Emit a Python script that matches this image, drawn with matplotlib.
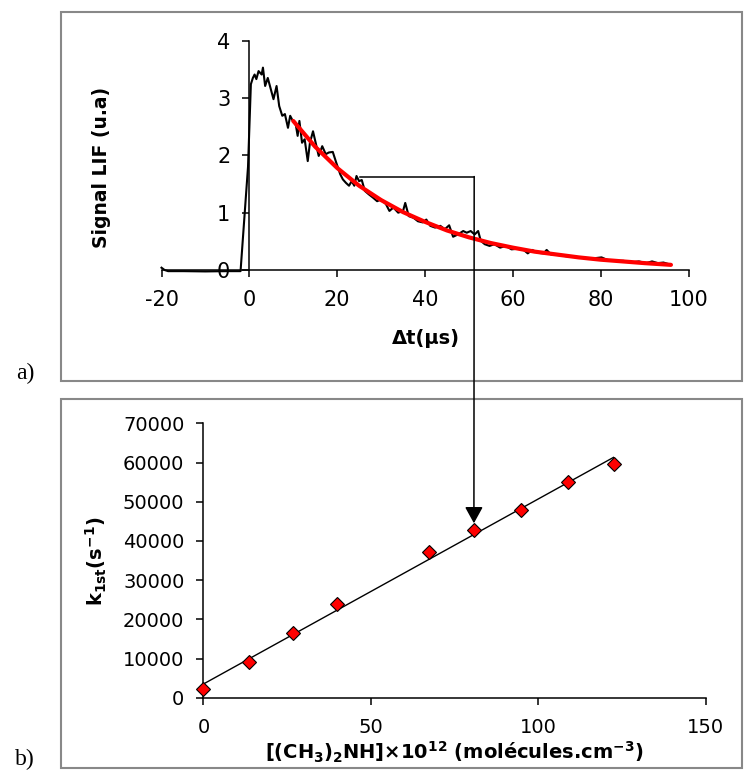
import matplotlib
matplotlib.use("Agg")
import matplotlib.pyplot as plt
from matplotlib.patches import Rectangle, ConnectionPatch

W, H = 744, 776

# a) LIF signal trace (time in us, signal in u.a)
trace_t = [-20.0, -19.3, -18.5, -15, -10, -5, -2.0, -0.3, 0.35, 0.8, 1.2, 1.6, 2.1, 2.8, 3.1,
           3.6, 4.2, 4.8, 5.5, 6.2, 6.8, 7.5, 8.1, 8.8, 9.3, 9.9, 10.5, 11.0, 11.4, 12.0,
           12.6, 13.3, 13.8, 14.5, 15.1, 15.8, 16.6, 17.4, 18.1, 19.0, 19.8, 20.7, 21.3, 22.0,
           22.7, 23.3, 23.9, 24.4, 25.0, 25.6, 26.3, 27.2, 28.2, 29.1, 30.0, 31.1, 31.9, 32.8,
           33.9, 35.0, 35.5, 36.3, 37.4, 38.4, 39.5, 40.3, 41.2, 42.3, 43.5, 44.5, 45.5, 46.4,
           47.5, 48.7, 49.5, 50.4, 51.3, 52.1, 52.7, 53.6, 54.7, 55.8, 57.1, 58.4, 59.7, 61.0,
           62.3, 63.4, 64.4, 65.7, 67.0, 67.7, 68.7, 70.5, 72.2, 73.9, 75.7, 77.4, 79.1, 80.2,
           81.7, 83.5, 85.2, 86.9, 88.7, 90.4, 91.7, 93.0, 94.3, 95.6]
trace_s = [0.04, 0.00, -0.02, -0.02, -0.025, -0.02, -0.02, 1.80, 3.24, 3.35, 3.41, 3.33, 3.47,
           3.41, 3.53, 3.21, 3.35, 3.18, 2.98, 3.21, 2.86, 2.69, 2.72, 2.48, 2.69, 2.60, 2.57,
           2.34, 2.60, 2.22, 2.28, 1.90, 2.22, 2.42, 2.22, 1.99, 2.16, 2.02, 2.05, 2.06, 1.87,
           1.67, 1.58, 1.52, 1.47, 1.55, 1.47, 1.64, 1.55, 1.57, 1.38, 1.32, 1.26, 1.20, 1.23,
           1.15, 1.03, 1.09, 1.00, 1.03, 1.17, 0.94, 0.91, 0.85, 0.83, 0.88, 0.77, 0.74, 0.77,
           0.71, 0.78, 0.58, 0.62, 0.68, 0.65, 0.68, 0.62, 0.68, 0.51, 0.45, 0.42, 0.45, 0.39,
           0.42, 0.36, 0.37, 0.36, 0.29, 0.35, 0.30, 0.29, 0.35, 0.27, 0.26, 0.24, 0.23, 0.22,
           0.20, 0.21, 0.22, 0.17, 0.16, 0.16, 0.13, 0.15, 0.12, 0.15, 0.12, 0.13, 0.10]

# exponential fit of the decay (red)
fit_t = [10, 15, 20, 25, 30, 35, 40, 45, 50, 55, 60, 65, 70, 75, 80, 85, 90, 96]
fit_s = [2.60, 2.15, 1.78, 1.47, 1.22, 1.01, 0.84, 0.69, 0.57, 0.47, 0.39, 0.32, 0.27,
         0.22, 0.18, 0.15, 0.12, 0.09]

# b) pseudo first order rate vs [(CH3)2NH]
conc = [0, 13.6, 26.7, 40.0, 67.3, 80.9, 94.8, 108.8, 122.6]
k1st = [2100, 9200, 16400, 23900, 37100, 42700, 47900, 55100, 59500]
lin_x = [0, 122.5]
lin_y = [3500, 61300]

top_yticks = [0, 1, 2, 3, 4]
top_xticks = [-20, 0, 20, 40, 60, 80, 100]
bot_yticks = [0, 10000, 20000, 30000, 40000, 50000, 60000, 70000]
bot_xticks = [0, 50, 100, 150]


def fx(px):
    return px / W


def fy(py):
    return 1 - py / H


def panel_box(fig, x0, y0, x1, y1):
    fig.add_artist(Rectangle((fx(x0), fy(y1)), (x1 - x0) / W, (y1 - y0) / H,
                             transform=fig.transFigure, fill=False,
                             ec='#888888', lw=1.5, zorder=0))


def style_axis(ax, size):
    for s in ['top', 'right']:
        ax.spines[s].set_visible(False)
    for s in ['left', 'bottom']:
        ax.spines[s].set_linewidth(1.1)
    ax.tick_params(direction='out', length=4.7, width=1.1, labelsize=size)
    ax.patch.set_alpha(0)


def main():
    plt.rcParams['font.family'] = 'DejaVu Sans'
    plt.rcParams['mathtext.fontset'] = 'dejavusans'
    plt.rcParams['mathtext.default'] = 'bf'
    plt.rcParams['axes.unicode_minus'] = False

    fig = plt.figure(figsize=(W / 100, H / 100), dpi=100)

    panel_box(fig, 61, 12, 742, 381)
    panel_box(fig, 61, 399.3, 742, 768.3)

    # top panel
    ax1 = fig.add_axes([fx(161.5), fy(270), (688.5 - 161.5) / W, (270 - 40.7) / H])
    ax1.plot(trace_t, trace_s, color='black', lw=1.5, clip_on=False, zorder=3)
    ax1.plot(fit_t, fit_s, color='#ff0000', lw=3, solid_capstyle='round', zorder=4)
    ax1.set_xlim(-20, 100)
    ax1.set_ylim(0, 4)
    ax1.spines['left'].set_position(('data', 0))
    ax1.set_xticks(top_xticks)
    ax1.set_yticks(top_yticks)
    style_axis(ax1, 15)
    ax1.tick_params(axis='x', pad=10)
    ax1.tick_params(axis='y', pad=9)

    # bottom panel
    ax2 = fig.add_axes([fx(203.5), fy(697.7), (705.5 - 203.5) / W, (697.7 - 423.3) / H])
    ax2.plot(lin_x, lin_y, color='black', lw=1.0, zorder=3)
    ax2.plot(conc, k1st, linestyle='none', marker='D', ms=6.8, mfc='#ff0000',
             mec='black', mew=0.8, clip_on=False, zorder=4)
    ax2.set_xlim(0, 150)
    ax2.set_ylim(0, 70000)
    ax2.set_xticks(bot_xticks)
    ax2.set_yticks(bot_yticks)
    style_axis(ax2, 14)
    ax2.tick_params(axis='x', pad=10)
    ax2.tick_params(axis='y', pad=9)

    # link between the decay and its rate constant
    ax1.plot([25.2, 51.2], [1.63, 1.63], color='black', lw=1.1, zorder=2)
    con = ConnectionPatch(xyA=(51.2, 1.63), coordsA=ax1.transData,
                          xyB=(80.8, 44500), coordsB=ax2.transData,
                          arrowstyle='-|>,head_length=1.0,head_width=0.55',
                          mutation_scale=10, color='black', lw=1.1, zorder=5)
    fig.add_artist(con)

    # labels
    fig.text(fx(101.7), fy(167), 'Signal LIF (u.a)', rotation=90, ha='center',
             va='center', fontsize=13.5, fontweight='bold')
    fig.text(fx(426), fy(338), 'Δt(µs)', ha='center', va='center',
             fontsize=14, fontweight='bold')
    fig.text(fx(96.7), fy(561), 'k$_{1st}$(s$^{-1}$)', rotation=90, ha='center',
             va='center', fontsize=14, fontweight='bold')
    fig.text(fx(454), fy(752), '[(CH$_3$)$_2$NH]×10$^{12}$ (molécules.cm$^{-3}$)',
             ha='center', va='center', fontsize=14, fontweight='bold')
    fig.text(fx(25), fy(373), 'a)', ha='center', va='center', fontsize=17,
             family='Liberation Serif')
    fig.text(fx(25), fy(759), 'b)', ha='center', va='center', fontsize=17,
             family='Liberation Serif')

    fig.savefig('out.png', dpi=100)


if __name__ == '__main__':
    main()
